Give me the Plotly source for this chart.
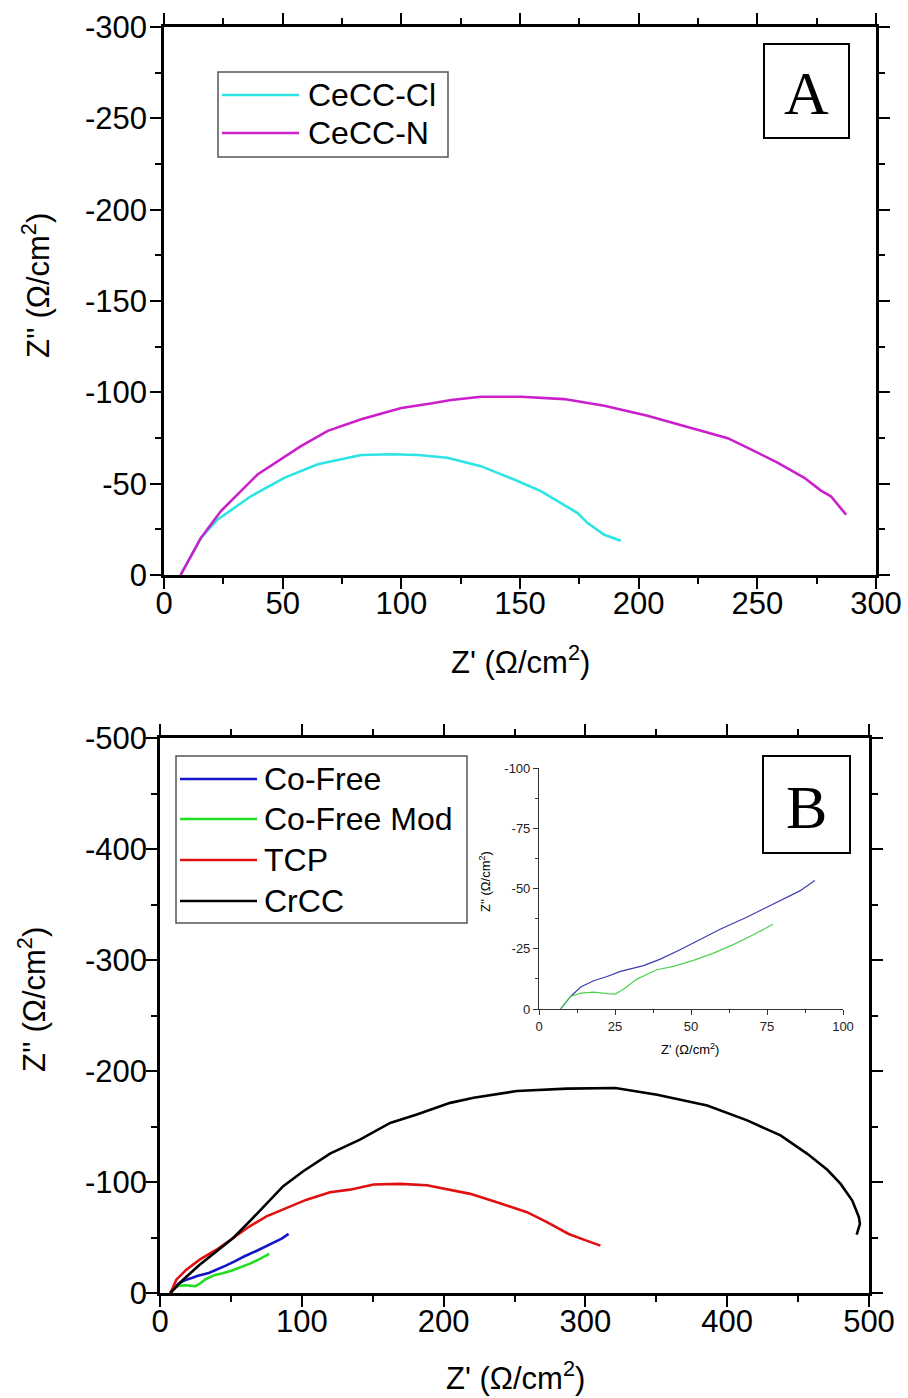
import plotly.graph_objects as go

# ---- Panel A: cerium conversion coatings ----
cecc_cl_zre = [7.0, 15.5, 22.5, 36.6, 50.7, 64.8, 83.1, 95.8, 107.0, 119.4, 133.5, 147.5, 158.8, 174.3, 178.5, 185.5, 192.5]
cecc_cl_zim = [0, -20.2, -30.3, -43.1, -53.2, -60.6, -65.7, -66.1, -65.7, -64.2, -59.6, -52.3, -45.9, -33.9, -28.4, -22.0, -18.7]

cecc_n_zre = [7.0, 15.5, 23.9, 39.4, 57.7, 69.0, 83.1, 100.0, 112.4, 121.0, 133.5, 150.3, 168.6, 185.5, 203.7, 222.0, 237.5, 247.3, 258.5, 269.8, 276.8, 281.0, 287.4]
cecc_n_zim = [0, -20.2, -34.9, -55.0, -70.6, -78.9, -85.3, -91.4, -93.9, -95.8, -97.6, -97.6, -96.3, -92.7, -87.2, -80.7, -74.9, -68.8, -61.5, -53.2, -46.2, -43.1, -33.0]

# ---- Panel B: cobalt-free, TCP and chromate coatings ----
cofree_zre = [7.1, 10.4, 13.7, 18.0, 22.4, 26.8, 34.4, 39.9, 46.4, 53.0, 59.6, 68.3, 77.0, 85.8, 90.7]
cofree_zim = [0, -5.2, -9.1, -11.7, -13.5, -15.6, -18.0, -20.7, -24.6, -28.7, -33.1, -38.1, -43.6, -49.0, -53.3]

cofree_mod_zre = [7.1, 10.4, 13.7, 18.0, 22.4, 25.1, 27.9, 32.2, 38.8, 44.3, 50.8, 57.4, 63.9, 70.5, 77.0]
cofree_mod_zim = [0, -5.2, -6.6, -7.0, -6.4, -6.2, -8.3, -12.4, -16.3, -17.7, -20.2, -23.2, -26.7, -30.8, -35.2]

tcp_zre = [7.4, 11.5, 18.6, 28.0, 39.8, 51.6, 63.3, 75.1, 91.6, 103.4, 119.9, 134.0, 150.6, 169.4, 188.2, 204.7, 218.8, 237.6, 258.8, 272.9, 288.2, 298.8, 310.6]
tcp_zim = [0, -12.0, -21.0, -30.0, -39.0, -49.6, -60.1, -69.1, -78.1, -84.1, -90.7, -93.1, -97.7, -98.3, -97.1, -93.1, -89.3, -81.8, -72.8, -63.8, -53.2, -48.1, -42.7]

crcc_zre = [7.4, 16.3, 28.0, 39.8, 51.6, 63.3, 77.5, 86.9, 101.0, 119.9, 141.0, 162.3, 181.1, 204.7, 221.2, 251.8, 287.1, 321.2, 350.6, 385.9, 414.1, 437.6, 456.5, 470.6, 480.0, 488.2, 492.9, 493.6, 491.3]
crcc_zim = [0, -12.0, -25.5, -37.6, -49.6, -64.6, -84.1, -96.2, -109.7, -125.6, -138.2, -153.2, -160.8, -171.3, -175.9, -182.0, -184.1, -184.7, -178.6, -169.0, -155.5, -142.0, -125.4, -111.0, -98.3, -83.3, -68.3, -62.3, -52.6]

# tick labels
a_xticks = [0, 50, 100, 150, 200, 250, 300]
a_yticks = [0, -50, -100, -150, -200, -250, -300]
b_xticks = [0, 100, 200, 300, 400, 500]
b_yticks = [0, -100, -200, -300, -400, -500]
inset_xticks = [0, 25, 50, 75, 100]
inset_yticks = [0, -25, -50, -75, -100]

W, H = 908, 1398
SANS = "Liberation Sans, Arial, sans-serif"
SERIF = "Liberation Serif, Times New Roman, serif"


def px(x):
    return x / W


def py(y):
    return 1 - y / H


fig = go.Figure()

a_series = [
    ("CeCC-Cl", cecc_cl_zre, cecc_cl_zim, "#2ee3e3"),
    ("CeCC-N", cecc_n_zre, cecc_n_zim, "#cc1fcc"),
]
b_series = [
    ("Co-Free", cofree_zre, cofree_zim, "#1414c8"),
    ("Co-Free Mod", cofree_mod_zre, cofree_mod_zim, "#22dd22"),
    ("TCP", tcp_zre, tcp_zim, "#e01010"),
    ("CrCC", crcc_zre, crcc_zim, "#000000"),
]

for name, zr, zi, col in a_series:
    fig.add_trace(go.Scatter(x=zr, y=zi, mode="lines", name=name, showlegend=False,
                             line=dict(color=col, width=2.6), xaxis="x", yaxis="y"))
for name, zr, zi, col in b_series:
    fig.add_trace(go.Scatter(x=zr, y=zi, mode="lines", name=name, showlegend=False,
                             line=dict(color=col, width=2.6), xaxis="x2", yaxis="y2"))

# inset: low-impedance region of the cobalt-free coatings
fig.add_trace(go.Scatter(x=cofree_zre, y=cofree_zim, mode="lines", showlegend=False,
                         line=dict(color="#3c3cb0", width=1.2), xaxis="x3", yaxis="y3"))
fig.add_trace(go.Scatter(x=cofree_mod_zre, y=cofree_mod_zim, mode="lines", showlegend=False,
                         line=dict(color="#4fd24f", width=1.2), xaxis="x3", yaxis="y3"))


def main_axis(domain, rng, vals, minor_vals, anchor, standoff):
    return dict(
        domain=domain, range=rng, anchor=anchor, automargin=False,
        tickmode="array", tickvals=vals, ticktext=[str(v) for v in vals],
        ticks="outside", ticklen=11, tickwidth=2.4, tickcolor="black",
        minor=dict(tickmode="array", tickvals=minor_vals, ticks="outside",
                   ticklen=6, tickwidth=2, tickcolor="black"),
        showline=True, linewidth=2.6, linecolor="black", mirror="allticks",
        showgrid=False, zeroline=False,
        tickfont=dict(family=SANS, size=31, color="black"),
        ticklabelstandoff=standoff,
    )


def inset_axis(domain, rng, vals, minor_vals, anchor):
    return dict(
        domain=domain, range=rng, anchor=anchor, automargin=False,
        tickmode="array", tickvals=vals, ticktext=[str(v) for v in vals],
        ticks="outside", ticklen=5, tickwidth=1, tickcolor="#333",
        minor=dict(tickmode="array", tickvals=minor_vals, ticks="outside",
                   ticklen=3, tickwidth=1, tickcolor="#333"),
        showline=True, linewidth=1.1, linecolor="#333", mirror=False,
        showgrid=False, zeroline=False,
        tickfont=dict(family=SANS, size=13, color="#222"),
    )


fig.update_layout(
    width=W, height=H,
    margin=dict(l=0, r=0, t=0, b=0, autoexpand=False),
    paper_bgcolor="white", plot_bgcolor="white",
    showlegend=False,
    xaxis=main_axis([px(164), px(876)], [0, 300], a_xticks, [25, 75, 125, 175, 225, 275], "y", -12),
    yaxis=main_axis([py(575), py(27)], [0, -300], a_yticks, [-25, -75, -125, -175, -225, -275], "x", -3),
    xaxis2=main_axis([px(160), px(869)], [0, 500], b_xticks, [50, 150, 250, 350, 450], "y2", -12),
    yaxis2=main_axis([py(1293), py(738)], [0, -500], b_yticks, [-50, -150, -250, -350, -450], "x2", -7),
    xaxis3=inset_axis([px(539), px(843)], [0, 100], inset_xticks, [12.5, 37.5, 62.5, 87.5], "y3"),
    yaxis3=inset_axis([py(1009), py(768)], [0, -100], inset_yticks, [-12.5, -37.5, -62.5, -87.5], "x3"),
)


def draw_legend(series, box, row_y, line_x0, line_x1, text_x, size):
    x0, x1, y0, y1 = box
    fig.add_shape(type="rect", xref="paper", yref="paper",
                  x0=px(x0), x1=px(x1), y0=py(y1), y1=py(y0),
                  line=dict(color="#555", width=1.5), fillcolor="white", layer="above")
    for (name, _, _, col), ry in zip(series, row_y):
        fig.add_shape(type="line", xref="paper", yref="paper",
                      x0=px(line_x0), x1=px(line_x1), y0=py(ry), y1=py(ry),
                      line=dict(color=col, width=2.6), layer="above")
        fig.add_annotation(text=name, xref="paper", yref="paper", x=px(text_x), y=py(ry),
                           showarrow=False, xanchor="left", yanchor="middle",
                           font=dict(family=SANS, size=size, color="black"))


draw_legend(a_series, (218, 448, 72, 157), [95, 133], 222, 299, 306, 32)
draw_legend(b_series, (176, 467, 756, 923), [779, 819, 860, 901], 180, 257, 262, 32)

# panel letters in framed boxes
for letter, x0, x1, y0, y1 in [("A", 764, 849, 44, 138), ("B", 763, 850, 756, 853)]:
    fig.add_shape(type="rect", xref="paper", yref="paper",
                  x0=px(x0), x1=px(x1), y0=py(y1), y1=py(y0),
                  line=dict(color="black", width=2), fillcolor="white", layer="above")
    fig.add_annotation(text=letter, xref="paper", yref="paper",
                       x=px((x0 + x1) / 2), y=py((y0 + y1) / 2 + 2),
                       showarrow=False, xanchor="center", yanchor="middle",
                       font=dict(family=SERIF, size=62, color="black"))

# axis titles
titles = [
    ("Z' (Ω/cm<sup>2</sup>)", 520, 660, 0, 31),
    ("Z'' (Ω/cm<sup>2</sup>)", 36, 286, -90, 31),
    ("Z' (Ω/cm<sup>2</sup>)", 515, 1376, 0, 31),
    ("Z'' (Ω/cm<sup>2</sup>)", 32, 1000, -90, 31),
    ("Z' (Ω/cm<sup>2</sup>)", 690, 1049, 0, 13),
    ("Z'' (Ω/cm<sup>2</sup>)", 485, 882, -90, 13),
]
for txt, x, y, ang, size in titles:
    fig.add_annotation(text=txt, xref="paper", yref="paper", x=px(x), y=py(y),
                       showarrow=False, xanchor="center", yanchor="middle", textangle=ang,
                       font=dict(family=SANS, size=size, color="black"))

fig.write_html("out.html")
